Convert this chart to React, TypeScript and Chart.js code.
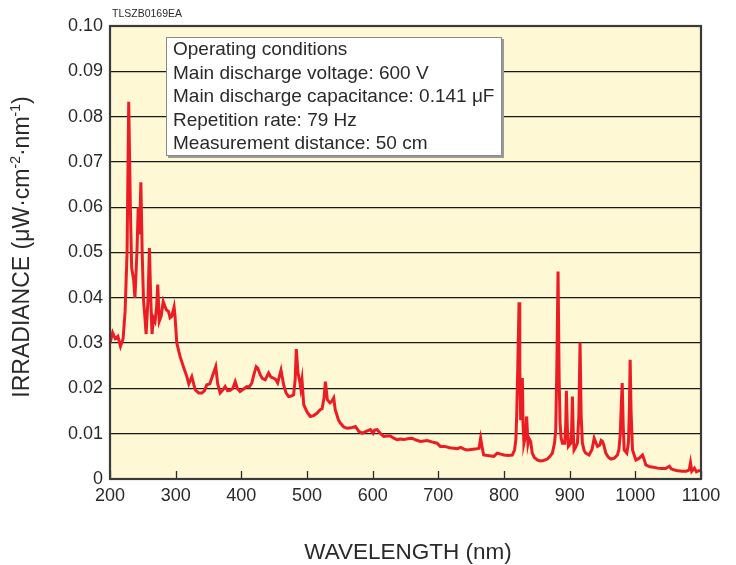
import React, { useEffect, useRef } from "react";
import { Chart, registerables } from "chart.js";

Chart.register(...registerables);

const wavelengths: number[] = [
  200, 204, 208, 212, 216, 220, 223, 226, 228.5, 231, 233, 236, 238, 241, 243, 245, 247, 249, 251, 253, 255, 258, 260, 262, 264, 266, 268.6, 271, 272.7, 275, 278, 281, 284, 286, 289, 291.5, 294, 297.6, 299,
  301.7, 306.8, 311.8, 317, 320, 324.6, 329.7, 335, 340, 344, 347.5, 352, 357.6, 361, 364, 367.8, 371, 375.4, 379, 383, 387, 390.7, 394, 398,
  403, 408.5, 412, 416, 419, 422.7, 425, 428.8, 432, 436.4, 441.5, 445, 449, 452, 455.3, 460.4, 464.4, 468, 472, 476, 479.6, 482, 483.7, 486.3, 489, 490.5, 492.4, 495,
  500, 505, 510, 515, 520, 523, 526, 528, 531, 535, 538, 540.7, 543, 548, 551, 556, 561, 567, 573.7, 579, 584, 590, 596.6,
  600.7, 603, 606.8, 612, 617, 622, 627, 632, 637.3, 642, 647.4, 653, 660, 666, 672.8, 678, 683, 690, 698,
  703, 710, 717, 723.6, 729, 734, 739, 744, 750, 756, 762, 764.4, 767, 769, 775, 780, 784.6, 789.7, 795,
  800, 806, 812.6, 816, 818, 819.3, 821, 822.9, 824, 825.4, 826.7, 828, 829, 830.4, 832, 834.5, 836.5, 838, 840.6, 843, 846, 850.7, 855, 860, 866, 870, 873.7, 877, 878.8, 880.5, 882.3, 884, 885.4, 887, 889, 892.5, 894, 895, 896.5, 898,
  901.7, 903, 904.2, 905.5, 906.7, 909, 911.8, 914, 915.8, 917.5, 919.4, 922, 924.5, 929.6, 934, 937.3, 940, 942.4, 946, 948, 950, 952, 955, 959, 962.7, 968, 972.8, 975, 977, 978.5, 980, 981.5, 983, 987, 989.5, 991, 992.1, 993.5, 995.7,
  1000.8, 1006, 1011, 1013, 1016, 1022, 1028, 1034, 1040, 1046, 1052, 1055, 1059.6, 1065, 1072, 1077.5, 1082, 1084, 1086, 1090, 1093, 1096, 1100,
];

const irradiance: number[] = [
  0.030, 0.0323, 0.031, 0.0315, 0.0293, 0.031, 0.037, 0.050, 0.0833, 0.060, 0.0466, 0.044, 0.040, 0.050, 0.060, 0.054, 0.0655, 0.050, 0.0396, 0.036, 0.032, 0.040, 0.051, 0.040, 0.032, 0.0356, 0.0348, 0.038, 0.0429, 0.0348, 0.036, 0.0392, 0.038, 0.0373, 0.037, 0.0356, 0.0359, 0.038, 0.036,
  0.030, 0.027, 0.0248, 0.0226, 0.021, 0.0226, 0.0197, 0.019, 0.019, 0.0195, 0.0208, 0.021, 0.0234, 0.0248, 0.021, 0.019, 0.0195, 0.0204, 0.0195, 0.0196, 0.020, 0.0215, 0.020, 0.0193,
  0.0198, 0.0204, 0.0203, 0.0212, 0.023, 0.0248, 0.0245, 0.023, 0.0222, 0.0219, 0.0234, 0.0225, 0.0223, 0.022, 0.0212, 0.024, 0.0208, 0.019, 0.0182, 0.0183, 0.0186, 0.022, 0.0287, 0.0234, 0.0215, 0.020, 0.0219, 0.0164,
  0.0148, 0.0138, 0.014, 0.0145, 0.0153, 0.0155, 0.018, 0.0215, 0.0175, 0.0168, 0.0172, 0.0179, 0.0153, 0.013, 0.0123, 0.0115, 0.0112, 0.0113, 0.0116, 0.0105, 0.0101, 0.0105, 0.0109,
  0.0101, 0.0108, 0.0109, 0.010, 0.0094, 0.0095, 0.0095, 0.009, 0.0087, 0.0088, 0.0087, 0.0089, 0.009, 0.0086, 0.0083, 0.0084, 0.0085, 0.0082, 0.0079,
  0.0072, 0.0072, 0.0069, 0.0068, 0.0067, 0.007, 0.0066, 0.0064, 0.0065, 0.0066, 0.0068, 0.009, 0.0068, 0.0053, 0.0052, 0.0051, 0.005, 0.0057, 0.0055,
  0.0053, 0.0052, 0.0053, 0.0064, 0.0085, 0.0138, 0.025, 0.039, 0.025, 0.013, 0.018, 0.0223, 0.012, 0.0079, 0.009, 0.0138, 0.0079, 0.009, 0.0083, 0.0057, 0.0048, 0.0042, 0.0040, 0.0041, 0.0044, 0.005, 0.0057, 0.008, 0.0109, 0.025, 0.0458, 0.022, 0.0123, 0.009, 0.0079, 0.0079, 0.012, 0.0195, 0.011, 0.0072,
  0.0079, 0.011, 0.0182, 0.010, 0.0064, 0.007, 0.0079, 0.014, 0.0301, 0.014, 0.0079, 0.0063, 0.0057, 0.0053, 0.0065, 0.009, 0.008, 0.0072, 0.0075, 0.0085, 0.0083, 0.0075, 0.0057, 0.0048, 0.0044, 0.0046, 0.0053, 0.0065, 0.0098, 0.016, 0.0212, 0.012, 0.0064, 0.0057, 0.008, 0.016, 0.0263, 0.015, 0.0064,
  0.0042, 0.0046, 0.0053, 0.0045, 0.0031, 0.0027, 0.0026, 0.0024, 0.0023, 0.0023, 0.0028, 0.0022, 0.002, 0.0018, 0.0017, 0.0017, 0.002, 0.0036, 0.0017, 0.0024, 0.0016, 0.0018, 0.0019,
];

const xTicks: number[] = [200, 300, 400, 500, 600, 700, 800, 900, 1000, 1100];

const xTitle = "WAVELENGTH (nm)";
const yTitleParts: { text: string; sup: boolean }[] = [
  { text: "IRRADIANCE (\u03BCW\u00B7cm", sup: false },
  { text: "-2", sup: true },
  { text: "\u00B7nm", sup: false },
  { text: "-1", sup: true },
  { text: ")", sup: false },
];
const noteLines: string[] = [
  "Operating conditions",
  "Main discharge voltage: 600 V",
  "Main discharge capacitance: 0.141 \u03BCF",
  "Repetition rate: 79 Hz",
  "Measurement distance: 50 cm",
];
const codeLabel = "TLSZB0169EA";

const FONT = "'Liberation Sans', Arial, Helvetica, sans-serif";
const TEXT = "#2a2a2a";

const decorPlugin = {
  id: "decor",
  beforeDraw(chart: any) {
    const { ctx, chartArea } = chart;
    ctx.save();
    ctx.fillStyle = "#FEF8D5";
    ctx.fillRect(chartArea.left, chartArea.top, chartArea.right - chartArea.left, chartArea.bottom - chartArea.top);
    ctx.restore();
  },
  afterDatasetsDraw(chart: any) {
    const { ctx, chartArea, scales } = chart;
    const { left, right, top, bottom } = chartArea;
    ctx.save();
    // x tick marks (inward)
    ctx.strokeStyle = "#2a2a2a";
    ctx.lineWidth = 1.3;
    xTicks.forEach((v) => {
      const px = Math.round(scales.x.getPixelForValue(v)) + 0.5;
      ctx.beginPath();
      ctx.moveTo(px, bottom);
      ctx.lineTo(px, bottom - 8);
      ctx.stroke();
    });
    // plot border
    ctx.strokeStyle = "#3a3a3a";
    ctx.lineWidth = 2.2;
    ctx.strokeRect(left, top, right - left, bottom - top);

    // annotation box
    const bx = 166, by = 37, bw = 336, bh = 119;
    ctx.fillStyle = "#9a9a9a";
    ctx.fillRect(bx + 2, by + 2, bw, bh);
    ctx.fillStyle = "#ffffff";
    ctx.fillRect(bx, by, bw, bh);
    ctx.strokeStyle = "#8a8a8a";
    ctx.lineWidth = 1;
    ctx.strokeRect(bx + 0.5, by + 0.5, bw - 1, bh - 1);
    ctx.fillStyle = TEXT;
    ctx.font = `19px ${FONT}`;
    ctx.textAlign = "left";
    ctx.textBaseline = "middle";
    noteLines.forEach((line, i) => {
      ctx.fillText(line, 173, 50 + i * 23.5);
    });

    // code label
    ctx.font = `10.5px ${FONT}`;
    ctx.fillText(codeLabel, 112, 14);

    // x title
    ctx.font = `22.5px ${FONT}`;
    ctx.textAlign = "center";
    ctx.fillText(xTitle, 408, 553);

    // y title with superscripts
    ctx.translate(23, 247);
    ctx.rotate(-Math.PI / 2);
    const mainFont = `23px ${FONT}`;
    const supFont = `14px ${FONT}`;
    let total = 0;
    yTitleParts.forEach((p) => {
      ctx.font = p.sup ? supFont : mainFont;
      total += ctx.measureText(p.text).width;
    });
    let cx = -total / 2;
    ctx.textAlign = "left";
    yTitleParts.forEach((p) => {
      ctx.font = p.sup ? supFont : mainFont;
      ctx.fillText(p.text, cx, p.sup ? -7 : 0);
      cx += ctx.measureText(p.text).width;
    });
    ctx.restore();
  },
};

export default function App() {
  const ref = useRef<HTMLCanvasElement | null>(null);
  useEffect(() => {
    if (!ref.current) return;
    const data = wavelengths.map((w, i) => ({ x: w, y: irradiance[i] }));
    const chart = new Chart(ref.current, {
      type: "line",
      data: {
        datasets: [
          {
            data,
            borderColor: "#EC1C24",
            borderWidth: 3,
            pointRadius: 0,
            tension: 0,
            fill: false,
          },
        ],
      },
      options: {
        animation: false,
        responsive: false,
        maintainAspectRatio: false,
        layout: { padding: { top: 26, right: 35, left: 0, bottom: 0 } },
        plugins: { legend: { display: false }, tooltip: { enabled: false } },
        scales: {
          x: {
            type: "linear",
            min: 200,
            max: 1100,
            afterBuildTicks: (scale: any) => {
              scale.ticks = xTicks.map((v) => ({ value: v }));
            },
            grid: { display: false, drawTicks: false },
            border: { display: false },
            ticks: {
              color: TEXT,
              font: { family: FONT, size: 18 },
              padding: 6,
              maxRotation: 0,
              autoSkip: false,
              callback: (v: any) => String(v),
            },
            afterFit: (scale: any) => {
              scale.height = 86;
            },
          },
          y: {
            type: "linear",
            min: 0,
            max: 0.1,
            ticks: {
              stepSize: 0.01,
              color: TEXT,
              font: { family: FONT, size: 18 },
              padding: 7,
              callback: (v: any) => (Number(v) === 0 ? "0" : Number(v).toFixed(2)),
            },
            grid: { color: "#1a1a1a", lineWidth: 1.3, drawTicks: false },
            border: { display: false },
            afterFit: (scale: any) => {
              scale.width = 110;
            },
          },
        },
      },
      plugins: [decorPlugin],
    });
    return () => chart.destroy();
  }, []);
  return (
    <div style={{ position: "absolute", left: 0, top: 0, width: 736, height: 565, background: "#fff" }}>
      <canvas ref={ref} width={736} height={565} style={{ width: 736, height: 565 }} />
    </div>
  );
}
